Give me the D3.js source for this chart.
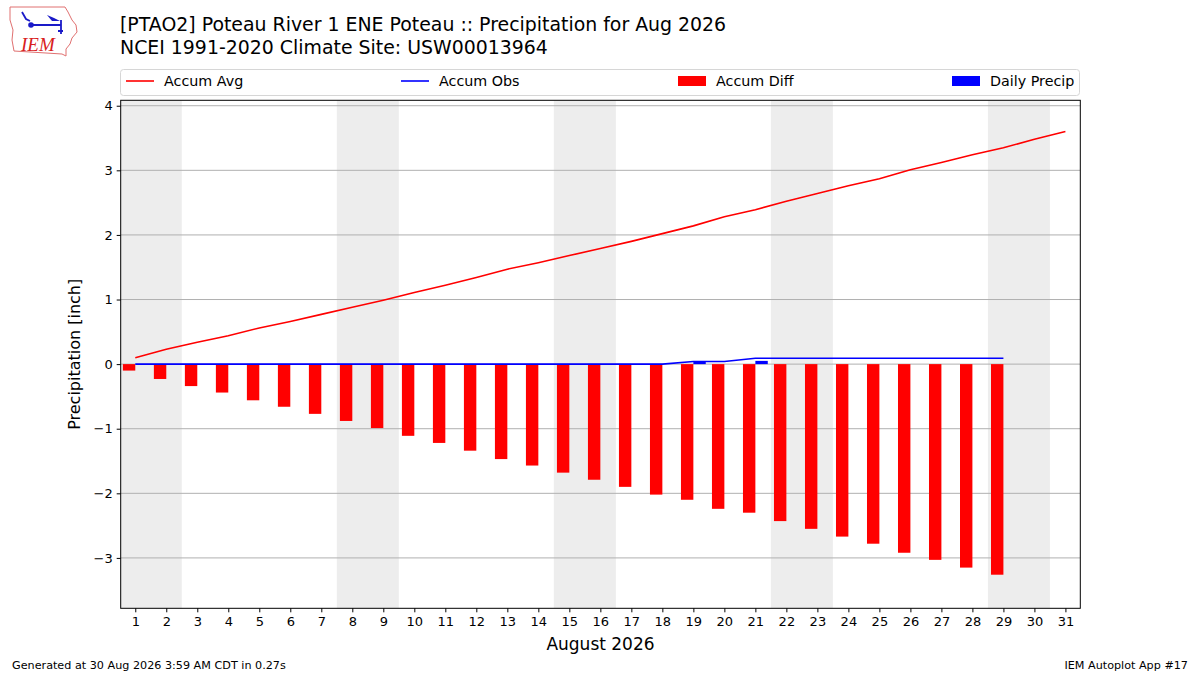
<!DOCTYPE html>
<html>
<head>
<meta charset="utf-8">
<script src="https://cdn.jsdelivr.net/npm/d3@7"></script>
<style>
  html, body { margin: 0; padding: 0; background: #fff; }
  svg { display: block; font-family: "DejaVu Sans", sans-serif; }
</style>
</head>
<body>
<svg id="chart" width="1200" height="675"></svg>
<script>
// Days of August 2026
const days = d3.range(1, 32);
// Accumulated climatological average precip (inch)
const accumAvg = [0.10, 0.23, 0.34, 0.44, 0.56, 0.66, 0.77, 0.88, 0.99, 1.11,
  1.22, 1.34, 1.47, 1.57, 1.68, 1.79, 1.90, 2.02, 2.14, 2.28,
  2.39, 2.52, 2.64, 2.76, 2.87, 3.01, 3.12, 3.24, 3.35, 3.48, 3.60];
// Accumulated observed precip, days 1-29
const accumObs = [0, 0, 0, 0, 0, 0, 0, 0, 0, 0,
  0, 0, 0, 0, 0, 0, 0, 0, 0.04, 0.04,
  0.09, 0.09, 0.09, 0.09, 0.09, 0.09, 0.09, 0.09, 0.09];
// Obs minus avg, days 1-29
const accumDiff = [-0.10, -0.23, -0.34, -0.44, -0.56, -0.66, -0.77, -0.88, -0.99, -1.11,
  -1.22, -1.34, -1.47, -1.57, -1.68, -1.79, -1.90, -2.02, -2.10, -2.24,
  -2.30, -2.43, -2.55, -2.67, -2.78, -2.92, -3.03, -3.15, -3.26];
// Daily precip, days 1-29
const dailyPrecip = [0, 0, 0, 0, 0, 0, 0, 0, 0, 0,
  0, 0, 0, 0, 0, 0, 0, 0, 0.04, 0,
  0.05, 0, 0, 0, 0, 0, 0, 0, 0];
// Weekend starts (Saturdays)
const weekends = [1, 8, 15, 22, 29];
const yTicks = [-3, -2, -1, 0, 1, 2, 3, 4];

const svg = d3.select("#chart");
const L = 120.7, R = 1080.3, T = 100.3, B = 608.3;

const x = d3.scaleLinear().domain([0.53, 31.48]).range([L, R]);
const y = d3.scaleLinear().domain([-3.78, 4.084]).range([B, T]);
const fmt = (v) => (v < 0 ? "\u2212" + Math.abs(v) : String(v));

svg.append("defs").append("clipPath").attr("id", "clip")
  .append("rect").attr("x", L).attr("y", T).attr("width", R - L).attr("height", B - T);

const plot = svg.append("g").attr("clip-path", "url(#clip)");

// weekend shading
plot.selectAll("rect.wk").data(weekends).join("rect")
  .attr("class", "wk")
  .attr("x", (d) => x(d - 0.5))
  .attr("width", (d) => x(d + 1.5) - x(d - 0.5))
  .attr("y", T).attr("height", B - T)
  .attr("fill", "#ededed");

// horizontal grid
plot.selectAll("line.grid").data(yTicks).join("line")
  .attr("class", "grid")
  .attr("x1", L).attr("x2", R)
  .attr("y1", (d) => y(d)).attr("y2", (d) => y(d))
  .attr("stroke", "#b0b0b0").attr("stroke-width", 1);

// accum diff bars (left of the day)
plot.selectAll("rect.diff").data(accumDiff).join("rect")
  .attr("class", "diff")
  .attr("x", (d, i) => x(days[i] - 0.4))
  .attr("width", (d, i) => x(days[i]) - x(days[i] - 0.4))
  .attr("y", (d) => y(Math.max(0, d)))
  .attr("height", (d) => Math.abs(y(d) - y(0)))
  .attr("fill", "#ff0000");

// daily precip bars (right of the day)
plot.selectAll("rect.daily").data(dailyPrecip).join("rect")
  .attr("class", "daily")
  .attr("x", (d, i) => x(days[i]))
  .attr("width", (d, i) => x(days[i] + 0.4) - x(days[i]))
  .attr("y", (d) => y(d))
  .attr("height", (d) => y(0) - y(d))
  .attr("fill", "#0000ff");

const line = d3.line().x((d, i) => x(days[i])).y((d) => y(d));
plot.append("path").datum(accumAvg).attr("d", line)
  .attr("fill", "none").attr("stroke", "#ff0000").attr("stroke-width", 1.6);
plot.append("path").datum(accumObs).attr("d", line)
  .attr("fill", "none").attr("stroke", "#0000ff").attr("stroke-width", 1.6);

// frame
svg.append("rect").attr("x", L).attr("y", T).attr("width", R - L).attr("height", B - T)
  .attr("fill", "none").attr("stroke", "#000").attr("stroke-width", 1);

// axes
const xAxis = svg.append("g").attr("transform", `translate(0,${B})`)
  .call(d3.axisBottom(x).tickValues(days).tickSize(4).tickPadding(4).tickFormat(d3.format("d")));
const yAxis = svg.append("g").attr("transform", `translate(${L},0)`)
  .call(d3.axisLeft(y).tickValues(yTicks).tickSize(4).tickPadding(4).tickFormat(fmt));
[xAxis, yAxis].forEach((a) => {
  a.select(".domain").remove();
  a.selectAll("text").attr("font-size", 13).attr("fill", "#000")
    .attr("font-family", "DejaVu Sans");
  a.selectAll("line").attr("stroke", "#000");
});

svg.append("text").attr("x", (L + R) / 2).attr("y", 650).attr("text-anchor", "middle")
  .attr("font-size", 17).text("August 2026");
svg.append("text").attr("transform", `translate(80,${(T + B) / 2}) rotate(-90)`)
  .attr("text-anchor", "middle").attr("font-size", 16).text("Precipitation [inch]");

// titles
svg.append("text").attr("x", 120).attr("y", 31).attr("font-size", 18.9)
  .text("[PTAO2] Poteau River 1 ENE Poteau :: Precipitation for Aug 2026");
svg.append("text").attr("x", 120).attr("y", 54).attr("font-size", 18.9)
  .text("NCEI 1991-2020 Climate Site: USW00013964");

// legend
const lg = svg.append("g");
lg.append("rect").attr("x", 120.5).attr("y", 69.5).attr("width", 959).attr("height", 26)
  .attr("rx", 3).attr("fill", "#fff").attr("stroke", "#d6d6d6");
const legendItems = [
  { label: "Accum Avg", color: "#ff0000", kind: "line", x: 126 },
  { label: "Accum Obs", color: "#0000ff", kind: "line", x: 401 },
  { label: "Accum Diff", color: "#ff0000", kind: "bar", x: 678 },
  { label: "Daily Precip", color: "#0000ff", kind: "bar", x: 952 }
];
legendItems.forEach((it) => {
  if (it.kind === "line") {
    lg.append("line").attr("x1", it.x).attr("x2", it.x + 28).attr("y1", 81).attr("y2", 81)
      .attr("stroke", it.color).attr("stroke-width", 1.6);
  } else {
    lg.append("rect").attr("x", it.x).attr("y", 76).attr("width", 28).attr("height", 10)
      .attr("fill", it.color);
  }
  lg.append("text").attr("x", it.x + 38).attr("y", 86).attr("font-size", 14.3).text(it.label);
});

// footer
svg.append("text").attr("x", 12).attr("y", 669).attr("font-size", 11.2)
  .text("Generated at 30 Aug 2026 3:59 AM CDT in 0.27s");
svg.append("text").attr("x", 1188).attr("y", 669).attr("font-size", 11.2)
  .attr("text-anchor", "end").text("IEM Autoplot App #17");

// logo (rough Iowa outline with station glyph)
const logo = svg.append("g");
logo.append("path")
  .attr("d", "M10,7 L65,7 L68,12 L72,20 L76,25 L77,32 L72,38 L70,44 L66,49 L66,56 L62,54 L14,51 L12,40 L13,30 L10,20 Z")
  .attr("fill", "#fff").attr("stroke", "#e07070").attr("stroke-width", 1);
logo.append("path").attr("d", "M31,25 L61,25 M61,20 L61,34 M22,12 L26,19 L30,21 M58,31 L63,31")
  .attr("fill", "none").attr("stroke", "#1a1ac8").attr("stroke-width", 1.8);
logo.append("path").attr("d", "M47,15 L54,18 L60,21 L52,21 Z").attr("fill", "#1a1ac8");
logo.append("circle").attr("cx", 31).attr("cy", 25).attr("r", 2.8).attr("fill", "#1a1ac8");
logo.append("text").attr("x", 21).attr("y", 51).attr("font-size", 19)
  .attr("font-family", "Liberation Serif").attr("font-style", "italic")
  .attr("fill", "#d82020").text("IEM");
</script>
</body>
</html>
